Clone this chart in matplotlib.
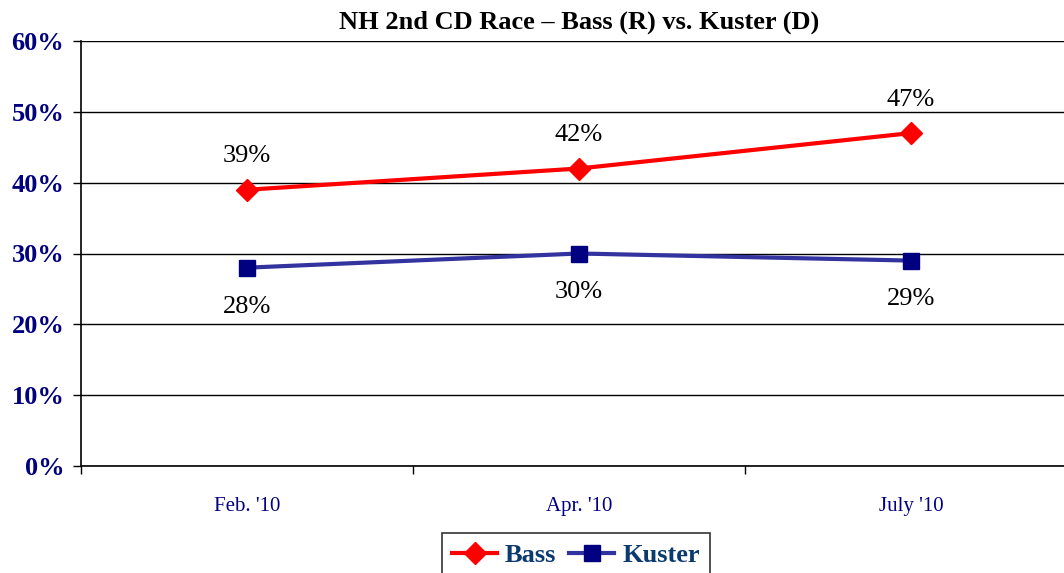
import matplotlib.pyplot as plt
from matplotlib.ticker import FixedLocator, NullFormatter

months = ["Feb. '10", "Apr. '10", "July '10"]
bass = [39, 42, 47]
kuster = [28, 30, 29]
yticks = [0, 10, 20, 30, 40, 50, 60]

plt.rcParams['font.family'] = ['Liberation Serif', 'DejaVu Serif']

fig = plt.figure(figsize=(10.64, 5.73), dpi=100)
ax = fig.add_axes([81 / 1064, 107 / 573, 996 / 1064, 425 / 573])

x = range(len(months))
ax.plot(x, bass, color='#FF0000', lw=3, marker='D', ms=11,
        mec='#FF0000', mfc='#FF0000', label='Bass', zorder=4)
ax.plot(x, kuster, color='#3333A0', lw=3, marker='s', ms=12,
        mec='#000080', mfc='#000080', label='Kuster', zorder=4)

for i, v in enumerate(bass):
    ax.annotate(f'{v}%', (i, v), xytext=(0, 24), textcoords='offset points',
                ha='center', va='center', fontsize=19)
for i, v in enumerate(kuster):
    ax.annotate(f'{v}%', (i, v), xytext=(0, -28), textcoords='offset points',
                ha='center', va='center', fontsize=19)

ax.set_xlim(-0.5, 2.5)
ax.set_ylim(0, 60)
ax.set_yticks(yticks)
ax.set_yticklabels([f'{t}%' for t in yticks], fontsize=19, fontweight='bold',
                   color='#000080')
ax.yaxis.grid(True, color='black', lw=1)
ax.set_axisbelow(True)

ax.xaxis.set_major_locator(FixedLocator([-0.5, 0.5, 1.5, 2.5]))
ax.xaxis.set_major_formatter(NullFormatter())
ax.xaxis.set_minor_locator(FixedLocator(list(x)))
ax.set_xticklabels(months, minor=True, fontsize=15, color='#000080')
ax.tick_params(axis='x', which='minor', length=0, pad=22)
ax.tick_params(axis='x', which='major', length=6, width=1, direction='out')
ax.tick_params(axis='y', length=6, width=1, pad=6)

for s in ['top', 'right']:
    ax.spines[s].set_visible(False)
for s in ['left', 'bottom']:
    ax.spines[s].set_color('black')
    ax.spines[s].set_linewidth(1.2)

fig.text(579 / 1064, 1 - 22 / 573, 'NH 2nd CD Race – Bass (R) vs. Kuster (D)',
         fontsize=19, fontweight='bold', ha='center', va='center')

leg = ax.legend(loc='upper center', bbox_to_anchor=(0.497, -0.158), ncol=2,
                frameon=True, fancybox=False, edgecolor='black',
                prop={'size': 19, 'weight': 'bold'}, handlelength=1.7,
                columnspacing=0.5, handletextpad=0.3, borderpad=0.4,
                borderaxespad=0)
leg.get_frame().set_linewidth(1.2)
for t in leg.get_texts():
    t.set_color('#0B3A6E')

fig.savefig('out.png', dpi=100)
